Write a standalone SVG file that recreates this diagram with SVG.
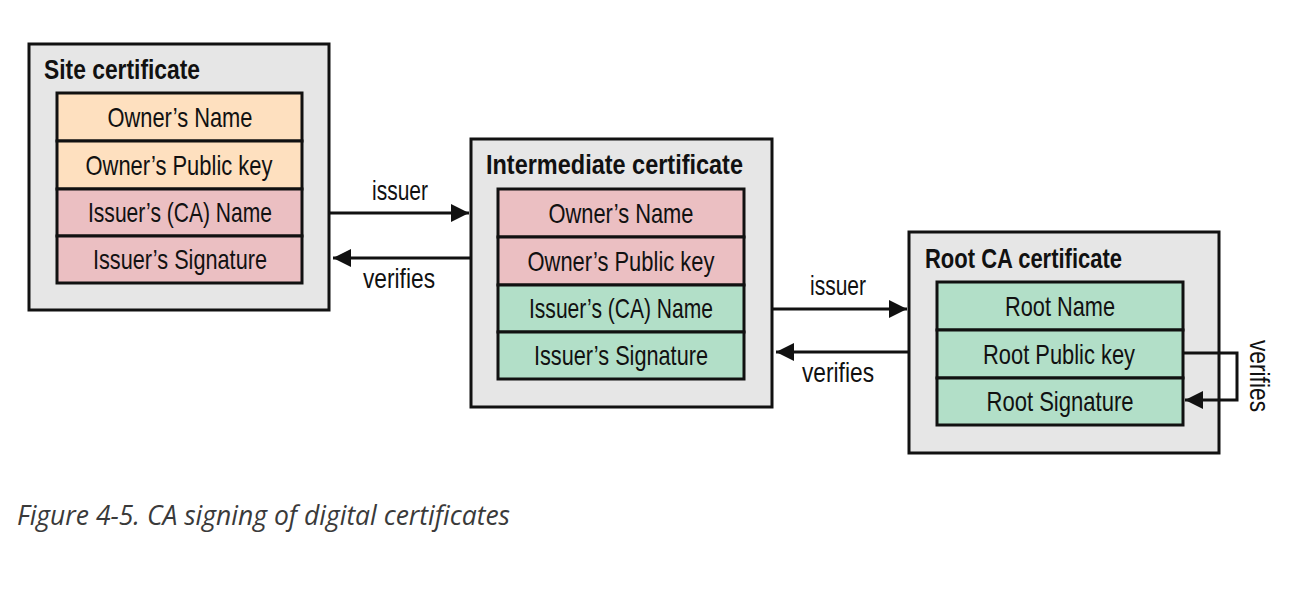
<svg xmlns="http://www.w3.org/2000/svg" width="1296" height="598" viewBox="0 0 1296 598">
<style>
.bg{fill:#ffffff}
.card{fill:#e6e6e6;stroke:#111;stroke-width:3}
.peach{fill:#fee0bf;stroke:#111;stroke-width:3}
.pink{fill:#ebbfc2;stroke:#111;stroke-width:3}
.green{fill:#b2dfc8;stroke:#111;stroke-width:3}
.t{font-family:"Liberation Sans","Roboto",sans-serif;font-size:28px;fill:#111;text-anchor:middle}
.h{font-family:"Liberation Sans","Roboto",sans-serif;font-size:28px;font-weight:bold;fill:#111}
.lbl{font-family:"Liberation Sans","Roboto",sans-serif;font-size:28px;fill:#111;text-anchor:middle}
.cap{font-family:"Open Sans","Liberation Sans",sans-serif;font-style:italic;font-size:27px;fill:#3a3a3a}
.conn{fill:none;stroke:#111;stroke-width:3}
</style>
<defs>
<marker id="ah" viewBox="0 0 10 10" refX="10" refY="5" markerWidth="6" markerHeight="6" markerUnits="strokeWidth" orient="auto">
<path d="M0,0 L10,5 L0,10 z" fill="#111"/>
</marker>
</defs>
<rect class="bg" x="0" y="0" width="1296" height="598"/>

<g id="site">
<rect class="card" x="29" y="44" width="300" height="266"/>
<text class="h" x="44" y="79" textLength="156" lengthAdjust="spacingAndGlyphs">Site certificate</text>
<rect class="peach" x="57" y="93" width="245" height="48"/>
<rect class="peach" x="57" y="141" width="245" height="48"/>
<rect class="pink" x="57" y="189" width="245" height="47"/>
<rect class="pink" x="57" y="236" width="245" height="47"/>
<text class="t" x="180" y="127" textLength="145" lengthAdjust="spacingAndGlyphs">Owner’s Name</text>
<text class="t" x="179" y="175" textLength="187" lengthAdjust="spacingAndGlyphs">Owner’s Public key</text>
<text class="t" x="180" y="222" textLength="184" lengthAdjust="spacingAndGlyphs">Issuer’s (CA) Name</text>
<text class="t" x="180" y="269" textLength="174" lengthAdjust="spacingAndGlyphs">Issuer’s Signature</text>
</g>

<g id="intermediate">
<rect class="card" x="471" y="139" width="301" height="268"/>
<text class="h" x="486" y="174" textLength="257" lengthAdjust="spacingAndGlyphs">Intermediate certificate</text>
<rect class="pink" x="498" y="189" width="246" height="48"/>
<rect class="pink" x="498" y="237" width="246" height="48"/>
<rect class="green" x="498" y="285" width="246" height="47"/>
<rect class="green" x="498" y="332" width="246" height="47"/>
<text class="t" x="621" y="223" textLength="145" lengthAdjust="spacingAndGlyphs">Owner’s Name</text>
<text class="t" x="621" y="271" textLength="187" lengthAdjust="spacingAndGlyphs">Owner’s Public key</text>
<text class="t" x="621" y="318" textLength="184" lengthAdjust="spacingAndGlyphs">Issuer’s (CA) Name</text>
<text class="t" x="621" y="365" textLength="174" lengthAdjust="spacingAndGlyphs">Issuer’s Signature</text>
</g>

<g id="root">
<rect class="card" x="909" y="232" width="310" height="221"/>
<text class="h" x="925" y="268" textLength="197" lengthAdjust="spacingAndGlyphs">Root CA certificate</text>
<rect class="green" x="937" y="282" width="246" height="48"/>
<rect class="green" x="937" y="330" width="246" height="48"/>
<rect class="green" x="937" y="378" width="246" height="47"/>
<text class="t" x="1060" y="316" textLength="110" lengthAdjust="spacingAndGlyphs">Root Name</text>
<text class="t" x="1059" y="364" textLength="152" lengthAdjust="spacingAndGlyphs">Root Public key</text>
<text class="t" x="1060" y="411" textLength="147" lengthAdjust="spacingAndGlyphs">Root Signature</text>
</g>

<g id="connectors">
<path class="conn" d="M329,213 H469" marker-end="url(#ah)"/>
<path class="conn" d="M471,258 H333" marker-end="url(#ah)"/>
<path class="conn" d="M772,309 H907" marker-end="url(#ah)"/>
<path class="conn" d="M909,352 H776" marker-end="url(#ah)"/>
<path class="conn" d="M1183,353 H1237 V400 H1185" marker-end="url(#ah)"/>
<text class="lbl" x="400" y="200" textLength="56" lengthAdjust="spacingAndGlyphs">issuer</text>
<text class="lbl" x="399" y="288" textLength="72" lengthAdjust="spacingAndGlyphs">verifies</text>
<text class="lbl" x="838" y="295" textLength="56" lengthAdjust="spacingAndGlyphs">issuer</text>
<text class="lbl" x="838" y="382" textLength="72" lengthAdjust="spacingAndGlyphs">verifies</text>
<text class="lbl" transform="translate(1250,376) rotate(90)" x="0" y="0" textLength="72" lengthAdjust="spacingAndGlyphs">verifies</text>
</g>

<text class="cap" x="17" y="525" textLength="493" lengthAdjust="spacingAndGlyphs">Figure 4-5. CA signing of digital certificates</text>
</svg>
